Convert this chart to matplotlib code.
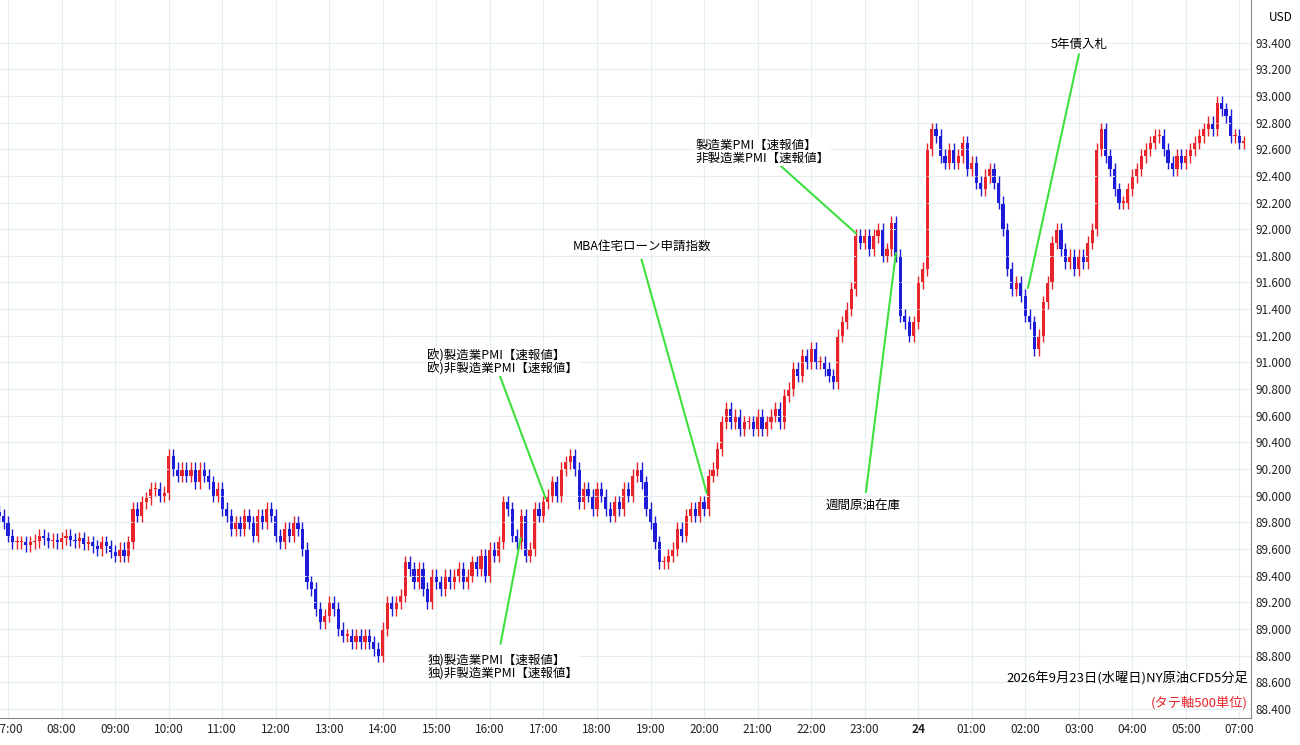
import matplotlib.pyplot as plt
import numpy as np

plt.rcParams['font.family'] = ['Noto Sans CJK JP', 'DejaVu Sans']

# 5-minute closes, 06:50 start; market break 06:00-07:00
pre = [89.85, 89.8]
hours = {
    '07': [89.7, 89.65, 89.65, 89.65, 89.63, 89.65, 89.66, 89.7, 89.68, 89.66, 89.67, 89.65],
    '08': [89.68, 89.7, 89.67, 89.66, 89.68, 89.64, 89.65, 89.62, 89.6, 89.65, 89.62, 89.58],
    '09': [89.55, 89.6, 89.55, 89.65, 89.9, 89.85, 89.95, 89.98, 90.05, 90.05, 90.0, 90.02],
    '10': [90.3, 90.2, 90.15, 90.2, 90.15, 90.2, 90.1, 90.2, 90.15, 90.1, 90.0, 90.05],
    '11': [89.9, 89.85, 89.75, 89.8, 89.75, 89.85, 89.8, 89.7, 89.85, 89.8, 89.9, 89.85],
    '12': [89.7, 89.65, 89.75, 89.7, 89.8, 89.75, 89.6, 89.35, 89.3, 89.15, 89.05, 89.1],
    '13': [89.2, 89.15, 89.0, 88.95, 88.95, 88.9, 88.95, 88.9, 88.95, 88.9, 88.85, 88.8],
    '14': [89.0, 89.2, 89.15, 89.2, 89.25, 89.5, 89.45, 89.35, 89.45, 89.3, 89.2, 89.4],
    '15': [89.35, 89.3, 89.4, 89.35, 89.4, 89.45, 89.35, 89.4, 89.5, 89.45, 89.55, 89.4],
    '16': [89.6, 89.55, 89.65, 89.95, 89.9, 89.7, 89.65, 89.85, 89.55, 89.6, 89.9, 89.85],
    '17': [89.95, 90.0, 90.1, 90.0, 90.2, 90.25, 90.3, 90.2, 89.95, 90.05, 90.0, 89.9],
    '18': [90.05, 90.0, 89.9, 89.85, 89.95, 89.9, 90.05, 90.0, 90.15, 90.2, 90.1, 89.9],
    '19': [89.8, 89.65, 89.5, 89.5, 89.55, 89.6, 89.75, 89.7, 89.85, 89.9, 89.85, 89.95],
    '20': [89.9, 90.15, 90.2, 90.35, 90.55, 90.65, 90.55, 90.6, 90.5, 90.55, 90.55, 90.5],
    '21': [90.6, 90.5, 90.55, 90.6, 90.65, 90.55, 90.75, 90.8, 90.95, 90.9, 91.05, 91.0],
    '22': [91.1, 91.0, 91.0, 90.95, 90.9, 90.85, 91.2, 91.3, 91.4, 91.55, 91.95, 91.9],
    '23': [91.95, 91.85, 91.95, 92.0, 91.8, 91.85, 92.05, 91.8, 91.35, 91.3, 91.2, 91.3],
    '24': [91.6, 91.7, 92.6, 92.75, 92.7, 92.55, 92.5, 92.6, 92.5, 92.55, 92.65, 92.45],
    '01': [92.5, 92.35, 92.3, 92.4, 92.45, 92.35, 92.2, 92.0, 91.7, 91.55, 91.6, 91.5],
    '02': [91.35, 91.3, 91.1, 91.2, 91.45, 91.6, 91.9, 92.0, 91.85, 91.75, 91.8, 91.7],
    '03': [91.8, 91.75, 91.9, 92.0, 92.6, 92.75, 92.55, 92.45, 92.3, 92.2, 92.2, 92.3],
    '04': [92.4, 92.45, 92.55, 92.6, 92.65, 92.7, 92.7, 92.6, 92.5, 92.45, 92.55, 92.5],
    '05': [92.55, 92.6, 92.65, 92.7, 92.75, 92.8, 92.75, 92.95, 92.9, 92.85, 92.7, 92.7],
}
post = [92.65, 92.65]
hour_labels = ['07:00', '08:00', '09:00', '10:00', '11:00', '12:00', '13:00', '14:00', '15:00',
               '16:00', '17:00', '18:00', '19:00', '20:00', '21:00', '22:00', '23:00', '24',
               '01:00', '02:00', '03:00', '04:00', '05:00', '07:00']
first_open = 89.88
wick = 0.05

closes = list(pre)
for k in hours:
    closes += hours[k]
closes += post
closes = np.array(closes)
opens = np.concatenate([[first_open], closes[:-1]])
highs = np.maximum(opens, closes) + wick
lows = np.minimum(opens, closes) - wick
x = np.arange(len(closes))

fig = plt.figure(figsize=(13, 7.45), dpi=100)
ax = fig.add_axes([0.0, 0.036, 0.962, 0.964])
up_c, dn_c = '#e8232a', '#1c1cd8'
for i in x:
    c = up_c if closes[i] >= opens[i] else dn_c
    ax.vlines(i, lows[i], highs[i], color=c, lw=1)
    lo, hi = min(opens[i], closes[i]), max(opens[i], closes[i])
    ax.bar(i, max(hi - lo, 0.01), bottom=lo, width=0.7, color=c, lw=0)

ax.set_xlim(0.2, len(closes) + 0.5)
ax.set_ylim(88.33, 93.72)
ax.yaxis.tick_right()
yt = np.arange(88.4, 93.41, 0.2)
ax.set_yticks(yt)
ax.set_yticklabels([f'{v:.3f}' for v in yt], fontsize=8.5)
xt = [2 + 12 * i for i in range(23)] + [2 + 12 * 23]
ax.set_xticks(xt)
xl = ax.set_xticklabels(hour_labels, fontsize=8.5)
xl[17].set_fontweight('bold')
ax.tick_params(length=0, colors='#222222')
ax.grid(color='#e6eef2', lw=0.8)
for s in ['left', 'top']:
    ax.spines[s].set_visible(False)
ax.spines['right'].set_color('#888888')
ax.spines['bottom'].set_color('#888888')
ax.text(1.015, 0.985, 'USD', transform=ax.transAxes, fontsize=8.5, ha='left', va='top')

g = '#3ee03e'
notes = [
    ('5年債入札', 242, 93.39, 'center', (242, 93.31), (230.6, 91.56)),
    ('製造業PMI【速報値】\n非製造業PMI【速報値】', 156, 92.58, 'left', (173, 92.54), (192, 91.97)),
    ('MBA住宅ローン申請指数', 144, 91.87, 'center', (144, 91.77), (158.6, 90.02)),
    ('欧)製造業PMI【速報値】\n欧)非製造業PMI【速報値】', 96, 91.0, 'left', (112, 90.92), (122.5, 89.98)),
    ('週間原油在庫', 193.6, 89.92, 'center', (194.3, 90.03), (201, 91.82)),
    ('独)製造業PMI【速報値】\n独)非製造業PMI【速報値】', 96, 88.72, 'left', (112.4, 88.89), (116.9, 89.68)),
]
for txt, tx, ty, ha, p0, p1 in notes:
    ax.plot([p0[0], p1[0]], [p0[1], p1[1]], color=g, lw=1.5)
    ax.text(tx, ty, txt, ha=ha, va='center', fontsize=9, linespacing=1.0,
            bbox=dict(facecolor='white', edgecolor='none', pad=0.5))

ax.text(0.998, 0.045, '2026年9月23日(水曜日)NY原油CFD5分足', transform=ax.transAxes,
        ha='right', va='bottom', fontsize=9.5)
ax.text(0.998, 0.012, '(タテ軸500単位)', transform=ax.transAxes,
        ha='right', va='bottom', fontsize=9.5, color='#e8232a')

fig.savefig('out.png', dpi=100)
